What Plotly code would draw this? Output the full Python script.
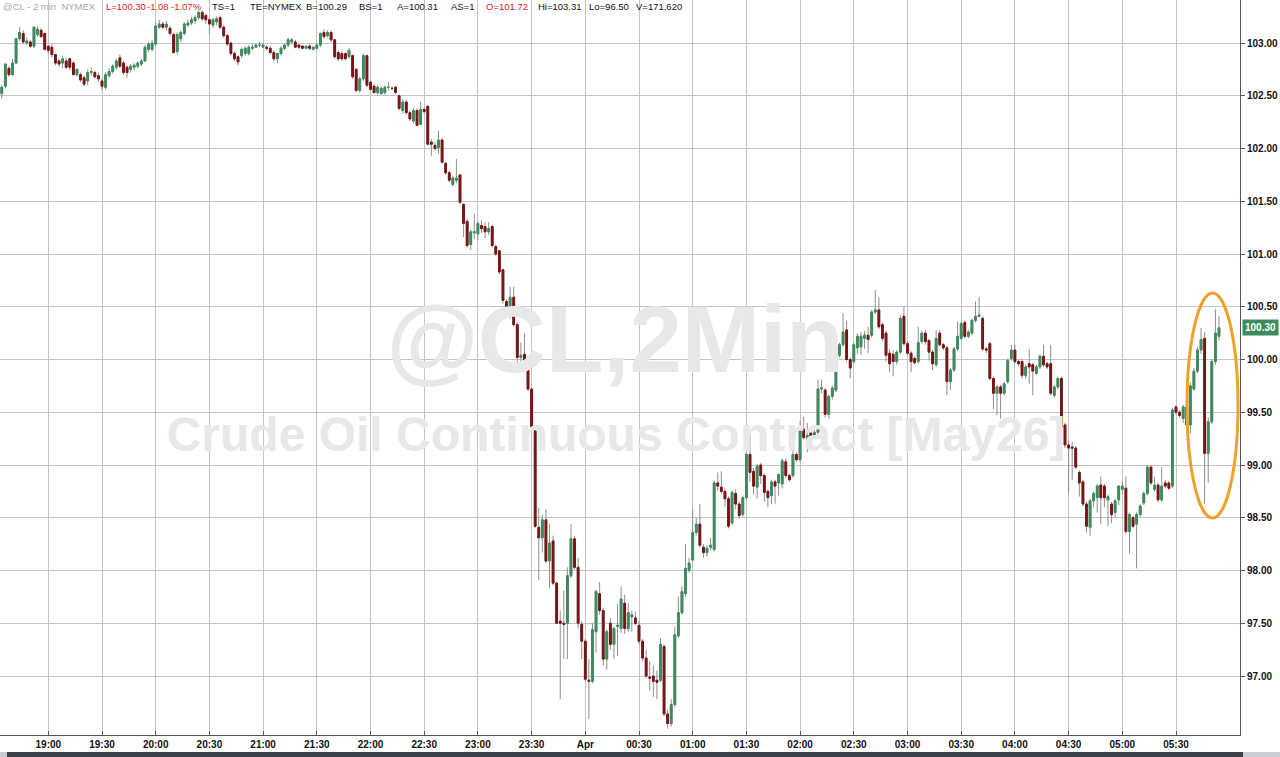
import pandas as pd
import plotly.graph_objects as go

# ---------------- data (2-minute bars, @CL) ----------------
first_bar = "2026-03-31 18:34"

opens = [
    102.52, 102.59, 102.76, 102.70, 102.81, 103.04, 103.09, 103.00, 103.01, 102.97,
    103.08, 103.12, 103.09, 102.97, 102.96, 102.89, 102.83, 102.81, 102.83, 102.85,
    102.81, 102.70, 102.70, 102.67, 102.64, 102.72, 102.72, 102.69, 102.64, 102.58,
    102.69, 102.73, 102.77, 102.86, 102.81, 102.77, 102.75, 102.77, 102.78, 102.80,
    102.83, 102.94, 102.94, 102.99, 103.15, 103.18, 103.15, 103.14, 103.08, 102.92,
    103.04, 103.09, 103.17, 103.19, 103.21, 103.24, 103.29, 103.26, 103.22, 103.17,
    103.20, 103.24, 103.15, 103.07, 103.00, 102.90, 102.87, 102.88, 102.90, 102.90,
    102.95, 102.96, 102.98, 102.96, 102.96, 102.95, 102.91, 102.85, 102.90, 102.95,
    102.98, 103.01, 103.01, 102.98, 102.97, 102.95, 102.97, 102.94, 102.95, 102.98,
    103.10, 103.07, 103.10, 103.03, 102.91, 102.90, 102.90, 102.87, 102.88, 102.75,
    102.55, 102.66, 102.88, 102.63, 102.59, 102.53, 102.52, 102.53, 102.58, 102.57,
    102.58, 102.50, 102.36, 102.44, 102.34, 102.26, 102.36, 102.23, 102.37, 102.40,
    102.06, 102.03, 102.01, 102.08, 101.86, 101.77, 101.66, 101.70, 101.75, 101.47,
    101.31, 101.09, 101.20, 101.19, 101.27, 101.26, 101.21, 101.26, 101.07, 101.03,
    100.85, 100.55, 100.41, 100.59, 100.33, 100.02, 100.05, 99.97, 99.72, 99.35,
    98.41, 98.31, 98.48, 98.09, 98.28, 97.88, 97.52, 97.50, 97.50, 97.95,
    98.30, 98.03, 97.49, 97.33, 96.96, 96.95, 97.42, 97.78, 97.62, 97.16,
    97.50, 97.30, 97.47, 97.45, 97.69, 97.45, 97.56, 97.55, 97.48, 97.33,
    97.17, 96.99, 97.00, 96.96, 96.96, 97.28, 96.64, 96.55, 96.73, 97.38,
    97.60, 97.78, 98.00, 98.10, 98.36, 98.44, 98.22, 98.17, 98.22, 98.20,
    98.83, 98.79, 98.75, 98.68, 98.45, 98.73, 98.63, 98.53, 98.69, 99.10,
    98.94, 98.79, 99.00, 98.90, 98.75, 98.71, 98.84, 98.83, 98.82, 99.03,
    98.90, 98.90, 99.10, 99.05, 99.34, 99.25, 99.31, 99.27, 99.31, 99.72,
    99.71, 99.48, 99.65, 99.71, 100.04, 100.14, 100.28, 100.00, 99.98, 100.11,
    100.12, 100.20, 100.23, 100.23, 100.45, 100.47, 100.33, 100.25, 100.06, 100.05,
    99.98, 100.07, 100.41, 100.15, 100.06, 100.01, 99.98, 100.17, 100.25, 100.18,
    100.07, 99.95, 100.25, 100.14, 100.11, 99.79, 99.90, 100.10, 100.20, 100.35,
    100.22, 100.25, 100.37, 100.41, 100.39, 100.10, 100.15, 99.82, 99.68, 99.74,
    99.68, 99.79, 100.01, 100.09, 99.98, 99.98, 99.85, 99.96, 99.95, 99.87,
    99.93, 100.03, 99.96, 99.96, 99.66, 99.74, 99.82, 99.38, 99.19, 99.17,
    99.16, 98.93, 98.84, 98.63, 98.41, 98.66, 98.69, 98.81, 98.80, 98.67,
    98.63, 98.55, 98.67, 98.77, 98.78, 98.37, 98.50, 98.44, 98.53, 98.64,
    98.73, 98.98, 98.77, 98.81, 98.67, 98.83, 98.83, 98.80, 99.55, 99.50,
    99.44, 99.55, 99.38, 99.72, 99.89, 100.09, 100.20, 99.11, 99.41, 99.98,
    100.22,
]

highs = [
    102.60, 102.81, 102.78, 102.85, 103.05, 103.15, 103.12, 103.05, 103.03, 103.16,
    103.16, 103.14, 103.10, 102.98, 102.99, 102.90, 102.85, 102.88, 102.86, 102.86,
    102.83, 102.76, 102.72, 102.69, 102.75, 102.77, 102.74, 102.72, 102.66, 102.72,
    102.76, 102.80, 102.85, 102.89, 102.83, 102.79, 102.80, 102.81, 102.83, 102.85,
    102.98, 103.01, 103.03, 103.20, 103.22, 103.20, 103.21, 103.16, 103.10, 103.10,
    103.12, 103.20, 103.22, 103.25, 103.26, 103.31, 103.31, 103.28, 103.24, 103.24,
    103.25, 103.26, 103.17, 103.09, 103.01, 102.92, 102.88, 102.96, 102.97, 102.98,
    102.99, 103.00, 103.01, 103.00, 102.98, 102.97, 102.93, 102.91, 102.97, 103.00,
    103.05, 103.05, 103.03, 102.99, 102.98, 102.98, 102.99, 102.97, 103.00, 103.10,
    103.13, 103.12, 103.12, 103.04, 102.93, 102.92, 102.91, 102.95, 102.89, 102.76,
    102.68, 102.90, 102.89, 102.64, 102.61, 102.60, 102.59, 102.60, 102.63, 102.59,
    102.59, 102.51, 102.47, 102.46, 102.36, 102.38, 102.38, 102.44, 102.39, 102.41,
    102.09, 102.06, 102.17, 102.10, 101.87, 101.79, 101.74, 101.90, 101.76, 101.48,
    101.33, 101.23, 101.38, 101.31, 101.32, 101.30, 101.30, 101.28, 101.09, 101.04,
    100.86, 100.57, 100.69, 100.69, 100.35, 100.16, 100.25, 99.98, 99.73, 99.37,
    98.59, 98.53, 98.58, 98.44, 98.33, 97.89, 97.62, 97.81, 98.03, 98.44,
    98.33, 98.12, 97.52, 97.35, 97.16, 97.50, 97.82, 97.89, 97.65, 97.44,
    97.55, 97.47, 97.68, 97.85, 97.77, 97.69, 97.62, 97.61, 97.52, 97.35,
    97.25, 97.14, 97.10, 97.05, 97.36, 97.30, 96.68, 96.78, 97.47, 97.75,
    97.85, 98.25, 98.12, 98.58, 98.50, 98.63, 98.25, 98.24, 98.31, 98.85,
    98.93, 98.94, 98.78, 98.70, 98.76, 98.77, 98.66, 98.71, 99.12, 99.29,
    98.97, 99.01, 99.02, 98.92, 98.77, 98.86, 98.86, 98.92, 99.06, 99.06,
    98.92, 99.23, 99.12, 99.42, 99.46, 99.40, 99.34, 99.36, 99.81, 99.81,
    99.73, 99.67, 99.75, 100.10, 100.16, 100.44, 100.37, 100.02, 100.16, 100.25,
    100.26, 100.27, 100.31, 100.47, 100.66, 100.59, 100.35, 100.27, 100.10, 100.09,
    100.09, 100.42, 100.50, 100.17, 100.08, 100.03, 100.31, 100.27, 100.28, 100.20,
    100.09, 100.28, 100.28, 100.16, 100.13, 99.92, 100.12, 100.36, 100.36, 100.37,
    100.28, 100.39, 100.55, 100.59, 100.41, 100.12, 100.17, 99.84, 99.76, 99.76,
    99.79, 100.01, 100.14, 100.14, 100.00, 100.00, 99.95, 100.10, 99.97, 99.95,
    100.05, 100.14, 99.98, 100.14, 99.76, 99.84, 99.84, 99.40, 99.23, 99.22,
    99.18, 98.95, 98.86, 98.65, 98.68, 98.75, 98.82, 98.89, 98.82, 98.72,
    98.65, 98.68, 98.81, 98.85, 98.89, 98.55, 98.52, 98.55, 98.63, 98.75,
    99.00, 99.00, 98.89, 98.83, 98.98, 98.86, 98.85, 99.54, 99.57, 99.52,
    99.57, 99.57, 99.78, 99.92, 100.12, 100.30, 100.26, 99.45, 100.00, 100.48,
    100.41,
]

lows = [
    102.47, 102.57, 102.68, 102.69, 102.80, 103.02, 102.99, 102.98, 102.95, 102.95,
    103.06, 103.05, 102.93, 102.90, 102.86, 102.79, 102.77, 102.76, 102.75, 102.74,
    102.69, 102.68, 102.63, 102.59, 102.60, 102.69, 102.66, 102.63, 102.55, 102.56,
    102.67, 102.71, 102.75, 102.76, 102.70, 102.67, 102.72, 102.74, 102.76, 102.78,
    102.82, 102.91, 102.92, 102.97, 103.13, 103.13, 103.12, 103.07, 102.90, 102.89,
    103.01, 103.07, 103.15, 103.17, 103.18, 103.22, 103.21, 103.18, 103.08, 103.14,
    103.17, 103.13, 103.05, 102.97, 102.88, 102.83, 102.79, 102.86, 102.88, 102.88,
    102.93, 102.95, 102.96, 102.95, 102.93, 102.89, 102.83, 102.81, 102.88, 102.93,
    102.96, 102.99, 102.95, 102.94, 102.94, 102.94, 102.93, 102.93, 102.94, 102.96,
    103.04, 103.05, 103.01, 102.85, 102.83, 102.83, 102.84, 102.85, 102.66, 102.53,
    102.53, 102.64, 102.58, 102.55, 102.52, 102.51, 102.51, 102.51, 102.55, 102.55,
    102.52, 102.36, 102.33, 102.32, 102.26, 102.24, 102.21, 102.22, 102.33, 102.03,
    101.93, 101.98, 101.95, 101.86, 101.75, 101.68, 101.64, 101.67, 101.47, 101.16,
    101.06, 101.04, 101.14, 101.13, 101.20, 101.15, 101.18, 101.06, 100.98, 100.81,
    100.53, 100.40, 100.39, 100.31, 99.88, 99.98, 99.96, 99.70, 99.35, 98.40,
    97.91, 98.17, 98.07, 97.83, 97.86, 97.49, 96.78, 97.16, 97.16, 97.93,
    98.01, 97.45, 97.16, 96.95, 96.59, 96.93, 97.22, 97.58, 97.10, 97.06,
    97.25, 97.16, 97.19, 97.41, 97.40, 97.42, 97.42, 97.48, 97.30, 97.14,
    96.98, 96.86, 96.80, 96.78, 96.94, 96.62, 96.50, 96.52, 96.70, 97.36,
    97.58, 97.75, 97.98, 98.08, 98.33, 98.22, 98.12, 98.13, 98.19, 98.18,
    98.76, 98.73, 98.60, 98.40, 98.43, 98.58, 98.49, 98.51, 98.67, 98.84,
    98.72, 98.68, 98.82, 98.65, 98.60, 98.63, 98.63, 98.71, 98.78, 98.88,
    98.84, 98.88, 99.03, 99.03, 99.24, 99.12, 99.25, 99.25, 99.29, 99.68,
    99.45, 99.44, 99.62, 99.69, 100.02, 100.12, 99.98, 99.82, 99.96, 100.05,
    100.04, 100.10, 100.06, 100.21, 100.43, 100.29, 100.17, 99.98, 99.88, 99.84,
    99.95, 100.05, 100.13, 100.04, 99.88, 99.95, 99.96, 100.15, 100.14, 99.99,
    99.90, 99.93, 100.12, 100.09, 99.66, 99.71, 99.88, 100.08, 100.18, 100.20,
    100.20, 100.23, 100.35, 100.40, 100.08, 100.06, 99.80, 99.53, 99.47, 99.44,
    99.66, 99.77, 99.99, 99.96, 99.94, 99.82, 99.82, 99.77, 99.66, 99.85,
    99.91, 99.93, 99.91, 99.66, 99.64, 99.72, 99.34, 99.16, 98.73, 98.86,
    98.96, 98.70, 98.61, 98.36, 98.33, 98.60, 98.55, 98.44, 98.60, 98.42,
    98.45, 98.50, 98.62, 98.72, 98.35, 98.16, 98.40, 98.02, 98.51, 98.62,
    98.71, 98.81, 98.75, 98.65, 98.65, 98.78, 98.76, 98.78, 99.48, 99.45,
    99.40, 99.30, 99.30, 99.70, 99.87, 100.05, 98.63, 98.83, 99.39, 99.95,
    100.18,
]

closes = [
    102.58, 102.80, 102.70, 102.81, 103.04, 103.10, 103.01, 103.02, 102.97, 103.15,
    103.13, 103.06, 102.94, 102.93, 102.89, 102.81, 102.80, 102.85, 102.77, 102.77,
    102.70, 102.75, 102.65, 102.61, 102.72, 102.73, 102.68, 102.66, 102.59, 102.70,
    102.73, 102.78, 102.83, 102.78, 102.72, 102.72, 102.78, 102.79, 102.81, 102.83,
    102.96, 102.99, 103.00, 103.16, 103.18, 103.15, 103.18, 103.09, 102.91, 103.08,
    103.10, 103.18, 103.19, 103.22, 103.24, 103.29, 103.23, 103.22, 103.18, 103.22,
    103.23, 103.15, 103.07, 102.99, 102.90, 102.85, 102.82, 102.94, 102.95, 102.96,
    102.96, 102.98, 102.98, 102.98, 102.95, 102.91, 102.85, 102.90, 102.95, 102.98,
    103.03, 103.03, 102.96, 102.96, 102.95, 102.97, 102.95, 102.96, 102.98, 103.09,
    103.06, 103.10, 103.03, 102.87, 102.85, 102.85, 102.85, 102.93, 102.68, 102.55,
    102.66, 102.88, 102.60, 102.56, 102.53, 102.58, 102.57, 102.58, 102.58, 102.57,
    102.53, 102.38, 102.44, 102.34, 102.28, 102.36, 102.22, 102.37, 102.35, 102.04,
    102.04, 102.00, 102.08, 101.87, 101.77, 101.70, 101.72, 101.72, 101.49, 101.29,
    101.08, 101.21, 101.21, 101.29, 101.24, 101.21, 101.24, 101.08, 101.00, 100.83,
    100.56, 100.41, 100.59, 100.33, 100.02, 100.04, 99.97, 99.72, 99.36, 98.42,
    98.31, 98.48, 98.09, 98.26, 97.88, 97.50, 97.50, 97.49, 97.95, 98.30,
    98.03, 97.50, 97.33, 96.97, 96.95, 97.44, 97.80, 97.62, 97.16, 97.42,
    97.30, 97.45, 97.48, 97.73, 97.45, 97.60, 97.58, 97.50, 97.33, 97.17,
    97.00, 96.98, 96.95, 96.94, 97.30, 96.64, 96.55, 96.73, 97.39, 97.60,
    97.80, 98.02, 98.07, 98.36, 98.44, 98.24, 98.17, 98.21, 98.24, 98.83,
    98.80, 98.75, 98.68, 98.42, 98.74, 98.63, 98.52, 98.69, 99.10, 98.93,
    98.80, 98.99, 98.90, 98.74, 98.69, 98.84, 98.80, 98.91, 99.04, 98.90,
    98.86, 99.10, 99.05, 99.34, 99.26, 99.28, 99.27, 99.31, 99.72, 99.73,
    99.48, 99.65, 99.73, 100.06, 100.14, 100.26, 100.00, 99.92, 100.14, 100.22,
    100.22, 100.23, 100.19, 100.45, 100.47, 100.31, 100.20, 100.04, 99.96, 99.98,
    100.07, 100.39, 100.15, 100.06, 99.98, 99.97, 100.16, 100.25, 100.17, 100.07,
    99.96, 100.20, 100.14, 100.11, 99.79, 99.90, 100.10, 100.22, 100.34, 100.22,
    100.26, 100.37, 100.41, 100.42, 100.10, 100.09, 99.82, 99.68, 99.74, 99.68,
    99.77, 99.99, 100.09, 99.98, 99.96, 99.85, 99.93, 99.93, 99.89, 99.93,
    100.03, 99.95, 99.93, 99.68, 99.74, 99.82, 99.36, 99.19, 99.16, 99.16,
    98.98, 98.83, 98.63, 98.42, 98.66, 98.73, 98.80, 98.69, 98.69, 98.70,
    98.53, 98.66, 98.80, 98.80, 98.37, 98.53, 98.42, 98.53, 98.61, 98.73,
    98.98, 98.83, 98.81, 98.67, 98.80, 98.80, 98.78, 99.52, 99.50, 99.47,
    99.55, 99.38, 99.75, 99.89, 100.09, 100.19, 99.11, 99.41, 99.98, 100.25,
    100.30,
]

tick_times = [
    "2026-03-31 19:00", "2026-03-31 19:30", "2026-03-31 20:00", "2026-03-31 20:30",
    "2026-03-31 21:00", "2026-03-31 21:30", "2026-03-31 22:00", "2026-03-31 22:30",
    "2026-03-31 23:00", "2026-03-31 23:30", "2026-04-01 00:00", "2026-04-01 00:30",
    "2026-04-01 01:00", "2026-04-01 01:30", "2026-04-01 02:00", "2026-04-01 02:30",
    "2026-04-01 03:00", "2026-04-01 03:30", "2026-04-01 04:00", "2026-04-01 04:30",
    "2026-04-01 05:00", "2026-04-01 05:30",
]
tick_labels = [
    "19:00", "19:30", "20:00", "20:30", "21:00", "21:30", "22:00", "22:30",
    "23:00", "23:30", "Apr", "00:30", "01:00", "01:30", "02:00", "02:30",
    "03:00", "03:30", "04:00", "04:30", "05:00", "05:30",
]
price_ticks = [97.0, 97.5, 98.0, 98.5, 99.0, 99.5, 100.0, 100.5,
               101.0, 101.5, 102.0, 102.5, 103.0]
price_tick_labels = ["97.00", "97.50", "98.00", "98.50", "99.00", "99.50", "100.00",
                     "100.50", "101.00", "101.50", "102.00", "102.50", "103.00"]

header_texts = ["@CL - 2 min  NYMEX", "L=100.30", "-1.08", "-1.07%", "TS=1", "TE=NYMEX",
                "B=100.29", "BS=1", "A=100.31", "AS=1", "O=101.72", "Hi=103.31",
                "Lo=96.50", "V=171,620"]
watermark_title = "@CL,2Min"
watermark_sub = "Crude Oil Continuous Contract [May26]"
last_price = 100.30
last_price_label = "100.30"

# ---------------- layout geometry / styles ----------------
W, H = 1280, 757
PLOT_W, PLOT_H = 1240, 735
PX_PER_BAR = 3.58
FIRST_BAR_PX = 1.76
PX_PER_DOLLAR = 105.5
TOP_PRICE = 103 + 43 / PX_PER_DOLLAR

GREEN = "#3c8c5e"
RED = "#7a1414"
WICK = "#8e8e8e"
GRID = "#c4c4c4"
AXIS = "#555555"
SANS = "Liberation Sans, Arial, sans-serif"

times = pd.date_range(first_bar, periods=len(opens), freq="2min")
x_start = times[0] - pd.Timedelta(minutes=2 * FIRST_BAR_PX / PX_PER_BAR)
x_end = x_start + pd.Timedelta(minutes=2 * PLOT_W / PX_PER_BAR)
y_top = TOP_PRICE
y_bot = TOP_PRICE - PLOT_H / PX_PER_DOLLAR


def px_to_time(px):
    return x_start + pd.Timedelta(minutes=2 * px / PX_PER_BAR)


def py_to_price(py):
    return TOP_PRICE - py / PX_PER_DOLLAR


body_top = [max(o, c) for o, c in zip(opens, closes)]
body_bot = [min(o, c) for o, c in zip(opens, closes)]

fig = go.Figure()

# watermark (drawn first -> below candles)
fig.add_trace(go.Scatter(
    x=[px_to_time(615)], y=[py_to_price(348)], mode="text", text=[watermark_title],
    textposition="middle center",
    textfont=dict(family=SANS, size=94, color="#e8e8e8", weight="bold"),
    hoverinfo="skip", showlegend=False))
fig.add_trace(go.Scatter(
    x=[px_to_time(616)], y=[py_to_price(439)], mode="text", text=[watermark_sub],
    textposition="middle center",
    textfont=dict(family=SANS, size=48, color="#e8e8e8", weight="bold"),
    hoverinfo="skip", showlegend=False))

# wicks (grey) + bodies
fig.add_trace(go.Candlestick(
    x=times, open=opens, high=highs, low=lows, close=closes,
    increasing=dict(line=dict(color=WICK, width=1), fillcolor=GREEN),
    decreasing=dict(line=dict(color=WICK, width=1), fillcolor=RED),
    whiskerwidth=0, hoverinfo="skip", showlegend=False))
fig.add_trace(go.Candlestick(
    x=times, open=opens, high=body_top, low=body_bot, close=closes,
    increasing=dict(line=dict(color=GREEN, width=1), fillcolor=GREEN),
    decreasing=dict(line=dict(color=RED, width=1), fillcolor=RED),
    whiskerwidth=0, hoverinfo="skip", showlegend=False))

# header annotations
header_x = [1, 104, 145, 169, 210, 248, 304, 357, 395, 449, 484, 536, 587, 634]
header_col = ["#aaaaaa", "#d8231d", "#d8231d", "#d8231d", "#111111", "#111111",
              "#111111", "#111111", "#111111", "#111111", "#d8231d", "#111111",
              "#111111", "#111111"]
annotations = []
for t, xp, col in zip(header_texts, header_x, header_col):
    annotations.append(dict(
        text=t, xref="paper", yref="paper", x=xp / PLOT_W, y=1 - 7 / PLOT_H,
        xanchor="left", yanchor="middle", showarrow=False,
        font=dict(family=SANS, size=9.5, color=col)))

annotations.append(dict(
    text="<b>" + last_price_label + "</b>", xref="paper", yref="y", x=1, y=last_price,
    xanchor="left", yanchor="middle", xshift=2, showarrow=False,
    bgcolor=GREEN, borderpad=2,
    font=dict(family=SANS, size=10, color="white")))

shapes = [
    # orange highlight ellipse
    dict(type="circle", xref="paper", yref="paper",
         x0=1187 / PLOT_W, x1=1238 / PLOT_W,
         y0=1 - 518 / PLOT_H, y1=1 - 293 / PLOT_H,
         line=dict(color="#f0a02c", width=3)),
    # bottom scrollbar strip
    dict(type="rect", xref="paper", yref="paper",
         x0=0, x1=W / PLOT_W, y0=-(H - PLOT_H) / PLOT_H, y1=-(752 - PLOT_H) / PLOT_H,
         line=dict(width=0), fillcolor="#c9cdd2"),
    dict(type="rect", xref="paper", yref="paper",
         x0=7 / PLOT_W, x1=1243 / PLOT_W, y0=-(H - PLOT_H) / PLOT_H, y1=-(752 - PLOT_H) / PLOT_H,
         line=dict(width=0), fillcolor="#3b4049"),
]

fig.update_layout(
    width=W, height=H, autosize=False,
    margin=dict(l=0, r=W - PLOT_W, t=0, b=H - PLOT_H, pad=0),
    paper_bgcolor="white", plot_bgcolor="white",
    showlegend=False, boxgap=0.3,
    annotations=annotations, shapes=shapes,
    xaxis=dict(
        type="date", range=[x_start, x_end], rangeslider=dict(visible=False),
        tickmode="array", tickvals=tick_times, ticktext=tick_labels,
        showgrid=True, gridcolor=GRID, gridwidth=1,
        showline=True, linecolor=AXIS, linewidth=1,
        ticks="inside", ticklen=4, tickcolor=AXIS,
        tickfont=dict(family=SANS, size=10, color="#111111", weight="bold"),
        zeroline=False, fixedrange=True),
    yaxis=dict(
        side="right", range=[y_bot, y_top],
        tickmode="array", tickvals=price_ticks, ticktext=price_tick_labels,
        showgrid=True, gridcolor=GRID, gridwidth=1,
        showline=True, linecolor=AXIS, linewidth=1,
        ticks="outside", ticklen=4, tickcolor=AXIS,
        tickfont=dict(family=SANS, size=10, color="#111111", weight="bold"),
        zeroline=False, fixedrange=True),
)

fig.write_html("out.html",
               config={"displayModeBar": False},
               post_script="document.body.style.margin='0';document.body.style.padding='0';")
